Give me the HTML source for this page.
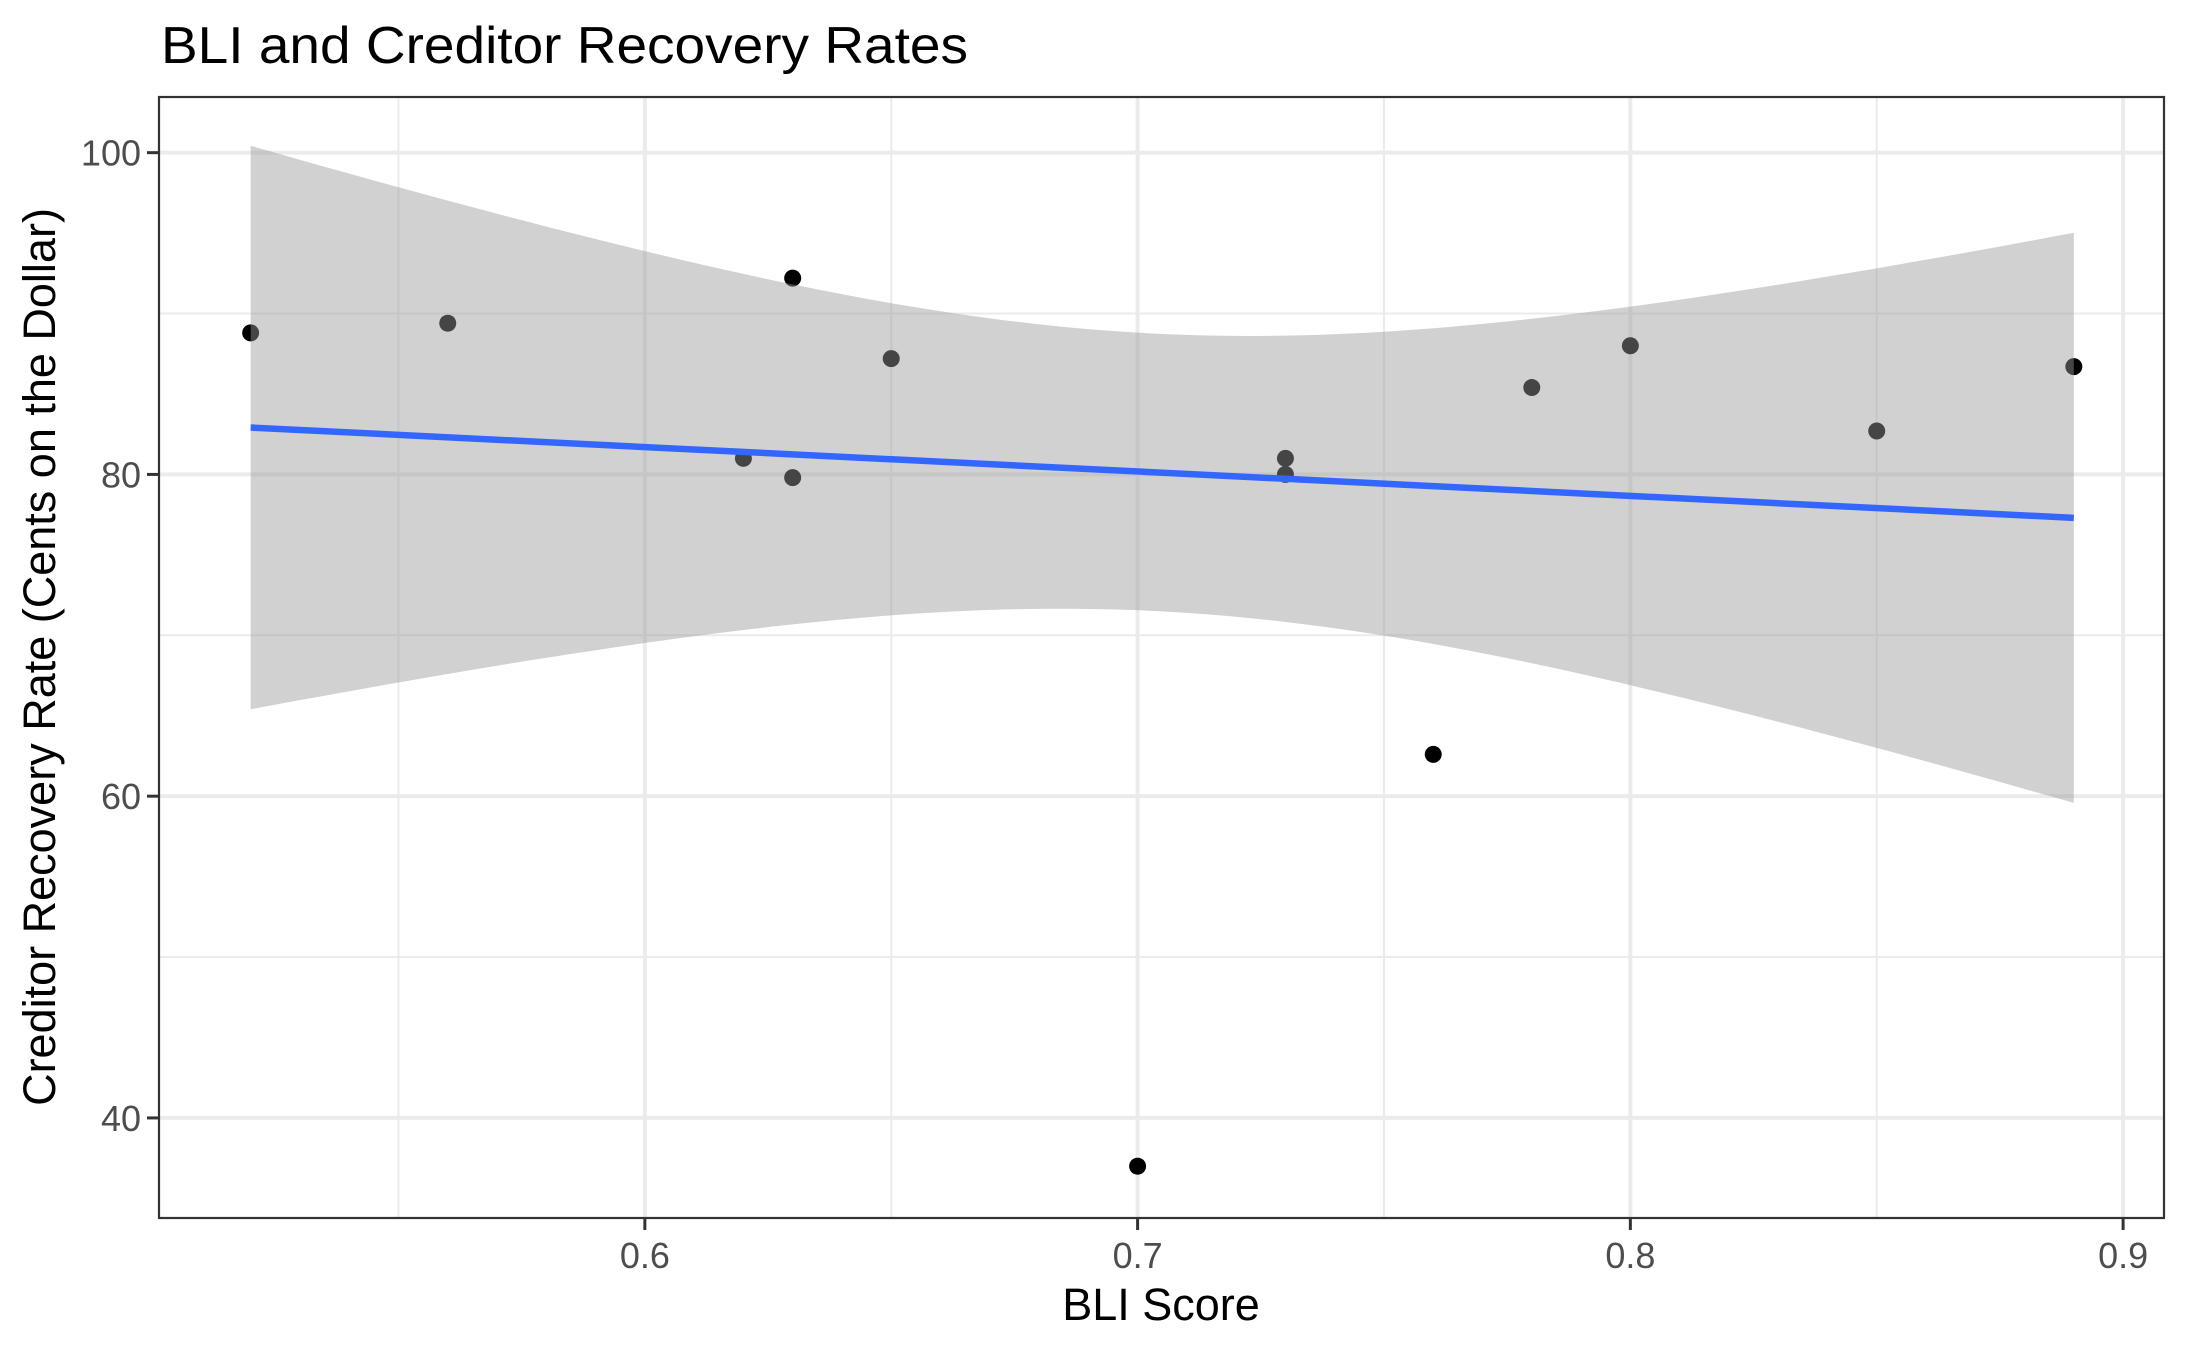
<!DOCTYPE html>
<html><head><meta charset="utf-8"><style>
html,body{margin:0;padding:0;background:#fff}
svg{display:block;font-family:"Liberation Sans",Arial,sans-serif}
</style></head><body>
<svg id="chart" width="2187" height="1351" viewBox="0 0 2187 1351">
<rect width="2187" height="1351" fill="#fff"/>
<text x="161" y="63" font-size="52" fill="#000" textLength="807" lengthAdjust="spacingAndGlyphs">BLI and Creditor Recovery Rates</text>
<g id="grid"></g><g id="marks"></g>
<rect x="159" y="97" width="2005" height="1121" fill="none" stroke="#333" stroke-width="2.2"/>
<g id="axes"></g>
<text x="1161" y="1320" font-size="45" text-anchor="middle" fill="#000">BLI Score</text>
<text transform="translate(55,657) rotate(-90)" font-size="45" text-anchor="middle" fill="#000">Creditor Recovery Rate (Cents on the Dollar)</text>
</svg>
<script>
const bliScores = [0.52,0.56,0.62,0.63,0.63,0.65,0.70,0.73,0.73,0.76,0.78,0.80,0.85,0.89];
const recoveryRates = [88.8,89.4,81.0,92.2,79.8,87.2,37.0,81.0,80.0,62.6,85.4,88.0,82.7,86.7];
const xTicks = [0.6,0.7,0.8,0.9];
const xTickLabels = ["0.6","0.7","0.8","0.9"];
const xMinor = [0.55,0.65,0.75,0.85];
const yTicks = [40,60,80,100];
const yTickLabels = ["40","60","80","100"];
const yMinor = [50,70,90];

const NS="http://www.w3.org/2000/svg";
const L=159,R=2164,T=97,B=1218;
const xMin=0.5014,xMax=0.9083,yMin=33.78,yMax=103.46;
const sx=v=>L+(v-xMin)/(xMax-xMin)*(R-L);
const sy=v=>B-(v-yMin)/(yMax-yMin)*(B-T);
function mk(tag,attrs,parent){const e=document.createElementNS(NS,tag);for(const k in attrs)e.setAttribute(k,attrs[k]);parent.appendChild(e);return e;}
const grid=document.getElementById('grid'),marks=document.getElementById('marks'),axes=document.getElementById('axes');

yMinor.forEach(v=>{const e=mk('line',{x1:L,x2:R,y1:sy(v),y2:sy(v),stroke:'#ebebeb','stroke-width':2},grid);

});
xMinor.forEach(v=>{const e=mk('line',{x1:sx(v),x2:sx(v),y1:T,y2:B,stroke:'#ebebeb','stroke-width':2},grid);

});
yTicks.forEach((v,i)=>{const e=mk('line',{x1:L,x2:R,y1:sy(v),y2:sy(v),stroke:'#ebebeb','stroke-width':4},grid);


const t=mk('line',{x1:L-12,x2:L,y1:sy(v),y2:sy(v),stroke:'#333','stroke-width':3},axes);


const tx=mk('text',{x:L-18,y:sy(v)+13,'font-size':36,'text-anchor':'end',fill:'#4d4d4d'},axes);tx.textContent=yTickLabels[i];

});
xTicks.forEach((v,i)=>{const e=mk('line',{x1:sx(v),x2:sx(v),y1:T,y2:B,stroke:'#ebebeb','stroke-width':4},grid);


const t=mk('line',{x1:sx(v),x2:sx(v),y1:B,y2:B+12,stroke:'#333','stroke-width':3},axes);


const tx=mk('text',{x:sx(v),y:B+50,'font-size':36,'text-anchor':'middle',fill:'#4d4d4d'},axes);tx.textContent=xTickLabels[i];

});

bliScores.forEach((x,i)=>{const c=mk('circle',{cx:sx(x),cy:sy(recoveryRates[i]),r:8.5,fill:'#000'},marks);

});

const n=bliScores.length;
const mx=bliScores.reduce((a,b)=>a+b)/n,my=recoveryRates.reduce((a,b)=>a+b)/n;
let sxx=0,sxy=0;bliScores.forEach((x,i)=>{sxx+=(x-mx)**2;sxy+=(x-mx)*(recoveryRates[i]-my);});
const slope=sxy/sxx,icpt=my-slope*mx;
let sse=0;bliScores.forEach((x,i)=>{sse+=(recoveryRates[i]-(icpt+slope*x))**2;});
const s=Math.sqrt(sse/(n-2)),tq=2.1788;
const x0=Math.min(...bliScores),x1=Math.max(...bliScores);
const up=[],lo=[];
for(let k=0;k<=80;k++){const x=x0+(x1-x0)*k/80;const f=icpt+slope*x;const se=s*Math.sqrt(1/n+(x-mx)**2/sxx);
up.push([sx(x),sy(f+tq*se)]);lo.push([sx(x),sy(f-tq*se)]);}
const pts=up.concat(lo.reverse()).map(p=>p[0].toFixed(1)+','+p[1].toFixed(1)).join(' ');
const rib=mk('polygon',{points:pts,fill:'#999999','fill-opacity':0.45},marks);


const ln=mk('line',{x1:sx(x0),y1:sy(icpt+slope*x0),x2:sx(x1),y2:sy(icpt+slope*x1),stroke:'#3366ff','stroke-width':6.5},marks);


</script>
</body></html>
